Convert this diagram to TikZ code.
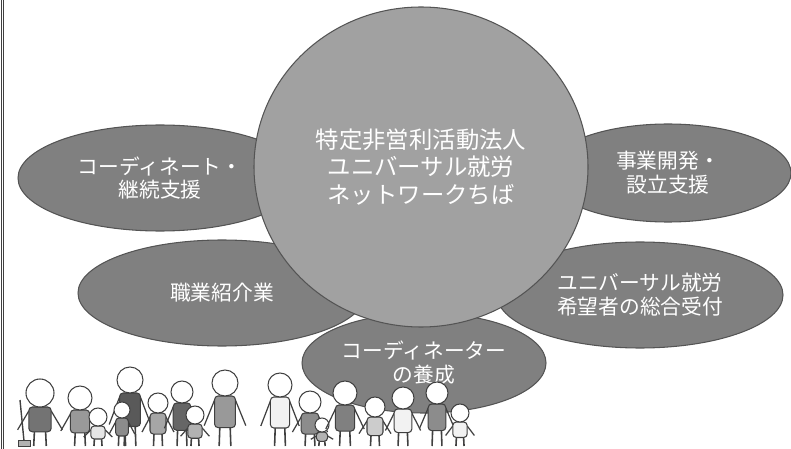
\documentclass[tikz,border=0pt]{standalone}
\usepackage{fontspec}
\setmainfont{Noto Sans CJK JP}
\usetikzlibrary{shapes.geometric}

\definecolor{petalgray}{gray}{0.50}
\definecolor{hubgray}{gray}{0.63}
\definecolor{rimgray}{gray}{0.33}
\definecolor{inkgray}{gray}{0.25}

\begin{document}
\begin{tikzpicture}[x=0.02cm, y=-0.02cm,
    petal/.style={ellipse, draw=rimgray, fill=petalgray, line width=0.6pt, inner sep=0pt,
        text=white, align=center, font=\fontsize{11.8}{13.6}\selectfont},
    hub/.style={ellipse, draw=rimgray, fill=hubgray, line width=0.6pt, inner sep=0pt,
        text=white, align=center, font=\fontsize{13.3}{15.9}\selectfont}]
    \def \pxl {0.02cm}
    \useasboundingbox ( 0, 0 ) rectangle ( 791, 449 );

    % рамка слева
    \draw [inkgray, line width=0.6pt] ( 1.2, 0 ) -- ( 1.2, 449 );
    \draw [inkgray, line width=0.6pt] ( 3.8, 0 ) -- ( 3.8, 449 );

    % лепестки
    \node [petal, minimum width=284*\pxl, minimum height=106*\pxl] (coord) at ( 160, 178 ) {コーディネート・\\継続支援};
    \node [petal, minimum width=246*\pxl, minimum height=98*\pxl] (startup) at ( 668, 173 ) {事業開発・\\設立支援};
    \node [petal, minimum width=288*\pxl, minimum height=106*\pxl] (placement) at ( 222, 293 ) {職業紹介業};
    \node [petal, minimum width=286*\pxl, minimum height=106*\pxl] (intake) at ( 640, 295 ) {ユニバーサル就労\\希望者の総合受付};
    \node [petal, minimum width=244*\pxl, minimum height=100*\pxl] (training) at ( 424, 363 ) {コーディネーター\\の養成};

    % центр
    \node [hub, minimum width=334*\pxl, minimum height=320*\pxl] (hub) at ( 421, 167 ) {特定非営利活動法人\\ユニバーサル就労\\ネットワークちば};

    % человечки внизу
    \draw [inkgray, line width=0.8pt] ( 20, 400 ) -- ( 24, 441 );
    \filldraw [fill=black!30, draw=inkgray, line width=0.5pt] ( 18, 440 ) rectangle ( 30, 446 );
    \foreach \x/\hy/\r/\c [evaluate=\hy as \neck using {\hy+\r}, evaluate=\hy as \hip using {447-0.38*(447-\hy-\r)}] in
        {40/393/14/55, 80/398/12/40, 98/417/9/10, 130/380/13/65, 122/410/8/45, 158/403/10/35,
         182/392/11/60, 195/415/9/30, 225/383/13/40, 280/385/12/5, 310/402/11/45, 322/425/7/30,
         345/393/12/50, 375/407/10/20, 403/398/11/5, 437/393/11/45, 460/413/9/5}
    {
        \draw [inkgray, line width=0.7pt] ( \x-0.8*\r, \neck+4 ) -- ( \x-1.6*\r, \hip-2 )
            ( \x+0.8*\r, \neck+4 ) -- ( \x+1.6*\r, \hip-2 );
        \draw [inkgray, line width=0.9pt] ( \x-0.4*\r, \hip ) -- ( \x-0.45*\r, 446 )
            ( \x+0.4*\r, \hip ) -- ( \x+0.45*\r, 446 );
        \filldraw [fill=black!\c, draw=inkgray, line width=0.6pt, rounded corners=2pt]
            ( \x-0.8*\r, \neck ) rectangle ( \x+0.8*\r, \hip );
        \filldraw [fill=white, draw=inkgray, line width=0.6pt] ( \x, \hy ) circle [radius=\r];
    }
\end{tikzpicture}
\end{document}
